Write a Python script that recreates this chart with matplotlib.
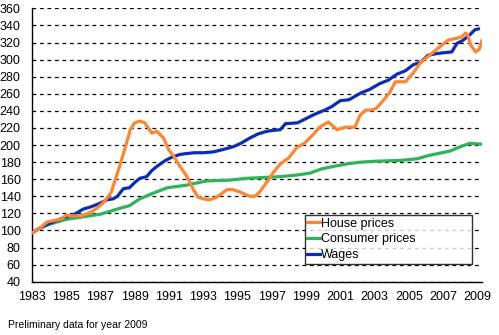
import matplotlib
matplotlib.use("Agg")
import matplotlib.pyplot as plt

# House prices
house_x = [1983.0, 1983.5, 1983.9, 1984.4, 1984.8, 1985.0, 1985.5, 1985.9, 1986.4, 1986.8, 1987.2, 1987.65,
           1987.9, 1988.2, 1988.5, 1988.75, 1989.0, 1989.3, 1989.6, 1990.0, 1990.3, 1990.7, 1991.0, 1991.25,
           1991.65, 1992.0, 1992.4, 1992.7, 1993.0, 1993.4, 1993.8, 1994.4, 1994.7, 1995.15, 1995.7, 1996.0,
           1996.3, 1996.8, 1997.1, 1997.5, 1998.0, 1998.45, 1998.9, 1999.4, 1999.8, 2000.3, 2000.8, 2001.3,
           2001.85, 2002.15, 2002.5, 2002.8, 2003.1, 2003.5, 2003.9, 2004.2, 2004.8, 2005.2, 2005.7, 2006.2,
           2006.8, 2007.3, 2007.8, 2008.1, 2008.3, 2008.45, 2008.6, 2008.9, 2009.1, 2009.25]
house_v = [97, 103, 110, 112, 114, 118, 117, 117, 121, 126, 133, 145,
           161, 180, 200, 218, 226, 228, 226, 214, 216, 208, 194, 188,
           175, 165, 149, 139, 137, 136, 139, 148, 148, 145, 140, 140,
           145, 159, 168, 178, 185, 197, 202, 212, 221, 227, 218, 221,
           221, 235, 241, 241, 243, 252, 262, 274, 274, 283, 297, 305,
           315, 323, 325, 327, 331, 328, 317, 309, 312, 322]

# Consumer prices
cons_x = [1983, 1983.5, 1984, 1985, 1986, 1987, 1988.15, 1988.7, 1989.3, 1990, 1990.9, 1992, 1993.2,
          1994.6, 1995.5, 1996.5, 1997.5, 1998.5, 1999.2, 1999.9, 2000.6, 2001.4, 2002.2, 2003, 2004.5,
          2005.5, 2006.2, 2007.4, 2008.0, 2008.55, 2009.25]
cons_v = [97, 103, 107, 113, 116, 119, 126, 129, 137, 143, 150, 153, 158,
          159, 161, 162, 163, 165, 167, 172, 175, 178, 180, 181, 182,
          184, 188, 193, 198, 202, 201]

# Wages
wage_x = [1983, 1983.5, 1984, 1984.5, 1985, 1985.5, 1986, 1986.5, 1987, 1987.4, 1987.75, 1988.0, 1988.35,
          1988.7, 1989.0, 1989.3, 1989.7, 1990.0, 1990.3, 1990.8, 1991.2, 1991.65, 1992.0, 1992.5, 1993.0,
          1993.6, 1994.2, 1994.75, 1995.2, 1995.7, 1996.2, 1996.7, 1997.0, 1997.5, 1997.8, 1998.5, 1999.0,
          1999.5, 2000.1, 2000.5, 2001.0, 2001.5, 2002.2, 2002.7, 2003.3, 2003.8, 2004.3, 2004.8, 2005.25,
          2005.7, 2006.1, 2006.6, 2007.0, 2007.5, 2007.8, 2008.1, 2008.45, 2008.85, 2009.05]
wage_v = [97, 103, 108, 112, 116, 119, 125, 128, 132, 136, 137, 140, 149,
          150, 156, 161, 163, 170, 175, 182, 186, 189, 190, 191, 191,
          192, 195, 198, 202, 208, 213, 216, 217, 218, 225, 226, 231,
          236, 241, 245, 252, 253, 261, 265, 272, 276, 283, 287, 294,
          297, 305, 307, 308, 309, 319, 322, 327, 335, 336]

x_ticks = list(range(1983, 2010, 2))
y_ticks = list(range(40, 361, 20))

plt.rcParams['font.family'] = ['Liberation Sans', 'DejaVu Sans']

fig = plt.figure(figsize=(4.99, 3.35), dpi=100)
ax = fig.add_axes([0.0635, 0.159, 0.902, 0.816])

ax.plot(house_x, house_v, color='#FF8530', lw=2.3, label='House prices', zorder=3)
ax.plot(cons_x, cons_v, color='#2EB356', lw=2.3, label='Consumer prices', zorder=2)
ax.plot(wage_x, wage_v, color='#0A2DB8', lw=2.3, label='Wages', zorder=2)

ax.set_xlim(1983, 2009.25)
ax.set_ylim(40, 360)
ax.set_xticks(x_ticks)
ax.set_xticklabels([str(t) for t in x_ticks])
ax.set_yticks(y_ticks)
ax.tick_params(axis='both', length=0, labelsize=9)
ax.tick_params(axis='x', pad=7)
ax.tick_params(axis='y', pad=8)
ax.yaxis.grid(True, color='black', linestyle=(0, (3, 3)), linewidth=0.9)
ax.set_axisbelow(True)
for s in ['top', 'right']:
    ax.spines[s].set_visible(False)
for s in ['left', 'bottom']:
    ax.spines[s].set_color('black')
    ax.spines[s].set_linewidth(1.0)

leg = ax.legend(loc='upper left', bbox_to_anchor=(0.607, 0.049, 0.372, 0.195), mode='expand',
                fontsize=9, frameon=True, fancybox=False, handlelength=1.0, handletextpad=0.1,
                borderpad=0.2, labelspacing=0.3, borderaxespad=0)
leg.get_frame().set_edgecolor('black')
leg.get_frame().set_linewidth(1.0)

fig.text(0.016, 0.02, 'Preliminary data for year 2009', fontsize=7.5)

fig.savefig('out.png', dpi=100, facecolor='white')
